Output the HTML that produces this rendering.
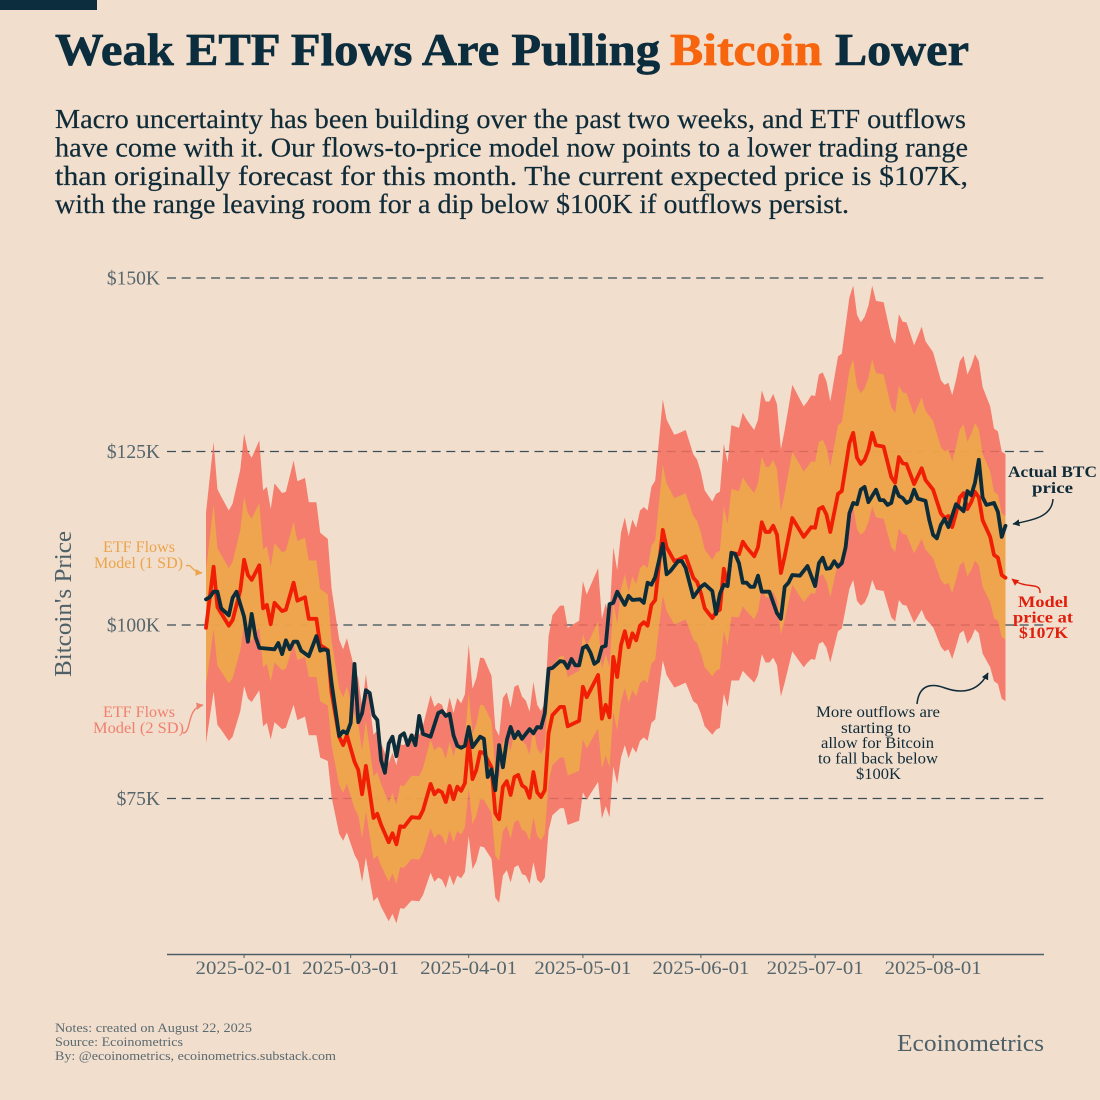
<!DOCTYPE html>
<html lang="en">
<head>
<meta charset="utf-8">
<title>Weak ETF Flows Are Pulling Bitcoin Lower</title>
<style>
  html, body { margin: 0; padding: 0; background: #F2DECD; }
  svg { display: block; font-family: "Liberation Serif", serif; }
</style>
</head>
<body>
<svg id="chart" width="1100" height="1100" viewBox="0 0 1100 1100" xmlns="http://www.w3.org/2000/svg">
  <rect x="0" y="0" width="1100" height="1100" fill="#F2DECD"/>
  <rect x="0" y="0" width="97" height="10" fill="#0B2D3D"/>

  <g font-weight="bold" font-size="45" fill="#0B2D3D" stroke="#0B2D3D" stroke-width="0.7">
    <text x="55" y="65" textLength="605" lengthAdjust="spacingAndGlyphs">Weak ETF Flows Are Pulling</text>
    <text x="670" y="65" textLength="152" lengthAdjust="spacingAndGlyphs" fill="#F7650F" stroke="#F7650F">Bitcoin</text>
    <text x="835" y="65" textLength="134" lengthAdjust="spacingAndGlyphs">Lower</text>
  </g>

  <g font-size="27" fill="#0F2B38" stroke="#0F2B38" stroke-width="0.2">
    <text x="55" y="128" textLength="911" lengthAdjust="spacingAndGlyphs">Macro uncertainty has been building over the past two weeks, and ETF outflows</text>
    <text x="55" y="156.5" textLength="913" lengthAdjust="spacingAndGlyphs">have come with it. Our flows-to-price model now points to a lower trading range</text>
    <text x="55" y="185" textLength="913" lengthAdjust="spacingAndGlyphs">than originally forecast for this month. The current expected price is $107K,</text>
    <text x="55" y="213" textLength="794" lengthAdjust="spacingAndGlyphs">with the range leaving room for a dip below $100K if outflows persist.</text>
  </g>

  <g id="grid-layer"></g>
  <g id="band-layer"></g>
  <g id="line-layer"></g>
  <g id="y-tick-layer"></g>

  <text transform="translate(71,604) rotate(-90)" text-anchor="middle" font-size="24" fill="#4D6068" textLength="146" lengthAdjust="spacingAndGlyphs">Bitcoin's Price</text>

  <line x1="167" y1="954.5" x2="1044" y2="954.5" stroke="#4D5F66" stroke-width="1.5"/>
  <g id="x-tick-layer"></g>

  <defs>
    <marker id="head-dark" markerWidth="8" markerHeight="8" refX="6.5" refY="3.5" orient="auto" markerUnits="userSpaceOnUse"><path d="M0,0 L7,3.5 L0,7 Z" fill="#0F2B38"/></marker>
    <marker id="head-red" markerWidth="8" markerHeight="8" refX="6.5" refY="3.5" orient="auto" markerUnits="userSpaceOnUse"><path d="M0,0 L7,3.5 L0,7 Z" fill="#E0200C"/></marker>
    <marker id="head-orange" markerWidth="8" markerHeight="8" refX="6.5" refY="3.5" orient="auto" markerUnits="userSpaceOnUse"><path d="M0,0 L7,3.5 L0,7 Z" fill="#EBA44B"/></marker>
    <marker id="head-salmon" markerWidth="8" markerHeight="8" refX="6.5" refY="3.5" orient="auto" markerUnits="userSpaceOnUse"><path d="M0,0 L7,3.5 L0,7 Z" fill="#F0806F"/></marker>
  </defs>

  <g font-size="15.5" fill="#EBA44B">
    <text x="103" y="552" textLength="72" lengthAdjust="spacingAndGlyphs">ETF Flows</text>
    <text x="94" y="568" textLength="89" lengthAdjust="spacingAndGlyphs">Model (1 SD)</text>
    <path d="M186,566 C192,563 191,572 202,573" fill="none" stroke="#EBA44B" stroke-width="1.4" marker-end="url(#head-orange)"/>
  </g>
  <g font-size="15.5" fill="#F0806F">
    <text x="103" y="717" textLength="72" lengthAdjust="spacingAndGlyphs">ETF Flows</text>
    <text x="93" y="733" textLength="91" lengthAdjust="spacingAndGlyphs">Model (2 SD)</text>
    <path d="M183,733 C192,733 186,708 203,705" fill="none" stroke="#F0806F" stroke-width="1.4" marker-end="url(#head-salmon)"/>
  </g>

  <g font-size="16" font-weight="bold" fill="#0F2B38" text-anchor="start">
    <text x="1008" y="477" textLength="89" lengthAdjust="spacingAndGlyphs">Actual BTC</text>
    <text x="1032" y="493" textLength="41" lengthAdjust="spacingAndGlyphs">price</text>
    <path d="M1053,499 C1052,516 1035,520 1013,524" fill="none" stroke="#0F2B38" stroke-width="1.5" marker-end="url(#head-dark)"/>
  </g>
  <g font-size="16" font-weight="bold" fill="#E0200C">
    <text x="1018" y="607" textLength="50" lengthAdjust="spacingAndGlyphs">Model</text>
    <text x="1013" y="622.5" textLength="60" lengthAdjust="spacingAndGlyphs">price at</text>
    <text x="1019" y="638" textLength="49" lengthAdjust="spacingAndGlyphs">$107K</text>
    <path d="M1040,593 C1041,581 1026,590 1012,579" fill="none" stroke="#E0200C" stroke-width="1.4" marker-end="url(#head-red)"/>
  </g>
  <g font-size="16" fill="#0F2B38">
    <text x="816" y="717" textLength="124" lengthAdjust="spacingAndGlyphs">More outflows are</text>
    <text x="841" y="733" textLength="70" lengthAdjust="spacingAndGlyphs">starting to</text>
    <text x="821" y="748" textLength="113" lengthAdjust="spacingAndGlyphs">allow for Bitcoin</text>
    <text x="818" y="763.5" textLength="120" lengthAdjust="spacingAndGlyphs">to fall back below</text>
    <text x="856" y="779" textLength="45" lengthAdjust="spacingAndGlyphs">$100K</text>
    <path d="M917,704 C919,684 932,683 945,688 C962,694 978,692 988,673" fill="none" stroke="#0F2B38" stroke-width="1.5" marker-end="url(#head-dark)"/>
  </g>

  <g font-size="13" fill="#5A6A70">
    <text x="55" y="1032" textLength="197" lengthAdjust="spacingAndGlyphs">Notes: created on August 22, 2025</text>
    <text x="55" y="1046" textLength="128" lengthAdjust="spacingAndGlyphs">Source: Ecoinometrics</text>
    <text x="55" y="1060" textLength="281" lengthAdjust="spacingAndGlyphs">By: @ecoinometrics, ecoinometrics.substack.com</text>
  </g>
  <text x="897" y="1051" font-size="24" fill="#4D6068" textLength="147" lengthAdjust="spacingAndGlyphs">Ecoinometrics</text>
</svg>

<script>
// Days are counted from 2025-01-22. Prices are in $K.
const startDate = '2025-01-22';

const yTickValues = [75, 100, 125, 150];
const xTickDates = ['2025-02-01', '2025-03-01', '2025-04-01', '2025-05-01', '2025-06-01', '2025-07-01', '2025-08-01'];

const modelDays = [
  0,2,3,4,6,7,9,10,11,12,
  14,15,16,17,18,20,21,23,24,26,
  27,29,30,32,33,35,36,37,39,40,
  41,42,44,45,46,48,49,50,51,52,
  54,56,57,59,60,61,62,63,64,65,
  66,67,68,69,70,71,72,73,75,76,
  77,78,79,80,81,82,83,84,85,86,
  87,88,89,90,91,93,94,95,98,99,
  100,103,104,105,106,107,108,109,110,111,
  112,113,114,115,116,117,118,120,121,123,
  124,126,128,129,130,131,133,134,135,136,
  137,138,140,141,142,144,145,146,147,148,
  149,150,151,152,154,157,158,159,160,161,
  162,163,164,166,167,169,170,171,172,173,
  174,175,176,178,180,181,182,183,184,186,
  188,189,191,193,194,195,196,197,198,199,
  200,201,202,203,204,206,207,208,209,210
];

const modelPrices = [
  99.6,108.4,102.6,101.7,99.9,100.7,105.0,109.4,107.2,106.5,
  108.6,102.4,102.9,100.1,103.2,102.0,102.2,106.1,103.5,104.0,
  100.9,100.9,97.1,96.4,90.2,83.9,82.7,84.1,80.3,79.1,
  75.6,79.7,72.2,72.8,71.2,68.7,70.0,68.4,71.0,70.9,
  72.3,72.2,73.3,77.1,75.6,76.2,75.9,74.5,76.8,74.9,
  76.7,76.1,77.2,83.4,77.8,79.1,81.7,81.6,79.5,72.9,
  72.0,76.7,77.5,75.5,78.1,78.4,76.9,76.5,75.1,78.8,
  75.9,75.2,76.2,84.4,87.0,88.2,88.2,85.4,86.2,91.1,
  89.6,92.8,86.5,88.5,86.7,95.4,92.5,97.1,99.1,96.8,
  98.8,97.8,99.9,100.4,99.9,102.9,103.6,113.7,111.2,109.2,
  109.4,109.9,106.8,106.2,104.6,102.4,101.0,101.9,102.2,108.1,
  105.8,110.4,110.2,112.0,111.2,109.9,111.2,114.8,113.4,113.4,
  114.3,113.0,107.5,109.9,115.4,112.7,113.4,114.1,114.0,116.7,
  117.0,115.9,113.4,118.9,119.3,126.2,127.7,124.1,123.2,123.8,
  125.2,127.7,125.9,125.7,121.3,120.5,124.2,123.3,123.2,120.3,
  122.6,120.9,119.5,116.1,115.4,115.7,114.1,116.1,118.4,119.0,
  116.7,117.7,119.2,118.4,115.1,112.7,110.1,109.7,107.2,106.8
];

const modelStdDev = [
  8.3,9.0,8.5,8.4,8.3,8.4,8.7,9.1,8.9,8.8,
  9.0,8.5,8.5,8.3,8.6,8.5,8.5,8.8,8.6,8.6,
  8.4,8.4,8.1,8.0,7.5,7.0,6.9,7.0,6.7,6.6,
  6.3,6.6,6.0,6.0,5.9,5.7,5.8,5.7,5.9,5.9,
  6.0,6.0,6.1,6.4,6.3,6.3,6.3,6.2,6.4,6.2,
  6.4,6.3,6.4,6.9,6.5,6.6,6.8,6.8,6.6,6.1,
  6.0,6.4,6.4,6.3,6.5,6.5,6.4,6.3,6.2,6.5,
  6.3,6.2,6.3,7.0,7.2,7.3,7.3,7.1,7.2,7.6,
  7.4,7.7,7.2,7.3,7.2,7.9,7.7,8.1,8.2,8.0,
  8.2,8.1,8.3,8.3,8.3,8.5,8.6,9.4,9.2,9.1,
  9.1,9.1,8.9,8.8,8.7,8.5,8.4,8.5,8.5,9.0,
  8.8,9.2,9.1,9.3,9.2,9.1,9.2,9.5,9.4,9.4,
  9.5,9.4,8.9,9.1,9.6,9.4,9.4,9.5,9.5,9.7,
  9.7,9.6,9.4,9.9,9.9,10.5,10.6,10.3,10.2,10.3,
  10.4,10.6,10.4,10.4,10.1,10.0,10.3,10.2,10.2,10.0,
  10.2,10.0,9.9,9.6,9.6,9.6,9.5,9.6,9.8,9.9,
  9.7,9.8,9.9,9.8,9.6,9.4,9.1,9.1,8.9,8.9
];

const actualDays = [
  0,1,2,3,4,6,7,8,10,11,
  12,13,14,18,19,20,21,22,23,24,
  25,27,29,30,31,32,33,35,36,37,
  38,39,40,41,42,43,44,45,46,47,
  48,49,50,51,52,53,54,55,56,57,
  59,61,62,63,64,65,66,67,68,69,
  70,72,73,74,75,76,77,78,79,80,
  81,82,83,85,86,87,88,89,90,91,
  93,94,95,96,97,98,99,100,101,102,
  103,104,105,106,107,108,110,111,112,114,
  115,116,117,118,120,121,122,124,125,126,
  128,130,131,133,134,135,136,137,138,139,
  140,141,142,143,144,145,146,148,150,151,
  152,153,154,156,158,160,161,162,163,164,
  165,166,167,168,169,170,171,172,173,174,
  176,177,178,179,180,181,182,183,184,185,
  186,187,189,190,191,192,193,194,195,197,
  198,199,200,201,202,203,204,205,207,208,
  209,210
];

const actualPrices = [
  103.7,104.0,104.8,104.8,102.4,101.4,103.9,104.8,101.2,97.6,
  101.6,98.3,96.7,96.5,97.4,95.8,97.8,96.5,97.6,97.6,
  96.3,95.5,98.4,96.3,96.5,96.3,91.6,84.0,84.7,84.4,
  85.9,94.4,86.0,87.3,90.6,90.2,87.0,86.3,80.5,78.7,
  82.9,83.9,81.1,84.0,84.4,82.7,84.1,82.7,86.9,84.3,
  83.9,87.3,87.6,86.9,87.2,84.1,82.6,82.3,82.6,85.3,
  82.4,83.9,83.6,78.1,79.2,76.2,82.7,79.5,83.4,85.3,
  83.7,84.6,83.6,85.0,84.4,85.3,85.2,87.3,93.7,93.8,
  94.8,94.7,93.8,95.1,94.2,94.2,96.7,97.0,96.0,94.4,
  94.8,96.8,97.0,103.0,103.2,104.8,102.9,104.2,103.6,103.7,
  103.2,106.1,105.8,106.9,111.7,107.3,107.8,109.2,109.2,108.2,
  104.0,105.5,105.9,104.9,101.6,104.5,105.8,105.6,110.4,110.2,
  108.9,106.1,106.1,105.5,105.5,107.1,104.8,104.8,101.7,100.9,
  105.5,106.1,107.2,107.1,108.5,105.6,108.9,109.7,108.1,108.2,
  109.2,108.4,108.9,111.2,116.1,117.6,117.4,119.5,119.9,117.7,
  119.5,118.0,118.0,117.3,117.6,119.9,118.6,118.3,117.6,117.9,
  119.5,118.2,117.9,115.1,113.0,112.5,114.4,115.3,114.1,117.4,
  116.9,116.4,119.3,118.7,120.5,123.8,118.4,117.3,117.6,116.3,
  112.7,114.3
];

const SVG_NS = 'http://www.w3.org/2000/svg';

function xScale(day) { return 206 + 3.807 * day; }
function yScale(price) { return 625 - (price - 100) * 6.94; }
function daysFromStart(dateText) { return (Date.parse(dateText) - Date.parse(startDate)) / 86400000; }
function coords(days, values) {
  return days.map(function (d, i) { return xScale(d).toFixed(1) + ',' + yScale(values[i]).toFixed(1); });
}
function bandPath(sdCount) {
  const upper = modelPrices.map(function (p, i) { return p + sdCount * modelStdDev[i]; });
  const lower = modelPrices.map(function (p, i) { return p - sdCount * modelStdDev[i]; });
  const top = coords(modelDays, upper);
  const bottom = coords(modelDays, lower).reverse();
  return 'M' + top.concat(bottom).join(' L') + ' Z';
}

const gridLayer = document.getElementById('grid-layer');
const yTickLayer = document.getElementById('y-tick-layer');
yTickValues.forEach(function (v) {
  const line = document.createElementNS(SVG_NS, 'line');
  
  
  line.setAttribute('x1', 167);
  line.setAttribute('x2', 1044);
  line.setAttribute('y1', yScale(v));
  line.setAttribute('y2', yScale(v));
  line.setAttribute('stroke', '#3A4E57');
  line.setAttribute('stroke-width', '1.3');
  line.setAttribute('stroke-dasharray', '9 5.7');
  gridLayer.appendChild(line);

  const label = document.createElementNS(SVG_NS, 'text');
  
  
  label.setAttribute('x', 160);
  label.setAttribute('y', yScale(v) + 6.5);
  label.setAttribute('text-anchor', 'end');
  label.setAttribute('font-size', '19.5');
  label.setAttribute('fill', '#55666C');
  label.textContent = '$' + v + 'K';
  yTickLayer.appendChild(label);
});

const bandLayer = document.getElementById('band-layer');
const band2 = document.createElementNS(SVG_NS, 'path');


band2.setAttribute('d', bandPath(2));
band2.setAttribute('fill', '#F46C5D');
band2.setAttribute('fill-opacity', '0.85');
bandLayer.appendChild(band2);

const band1 = document.createElementNS(SVG_NS, 'path');


band1.setAttribute('d', bandPath(1));
band1.setAttribute('fill', '#ECAC48');
band1.setAttribute('fill-opacity', '0.85');
bandLayer.appendChild(band1);

const lineLayer = document.getElementById('line-layer');
const modelLine = document.createElementNS(SVG_NS, 'polyline');


modelLine.setAttribute('points', coords(modelDays, modelPrices).join(' '));
modelLine.setAttribute('fill', 'none');
modelLine.setAttribute('stroke', '#F01E05');
modelLine.setAttribute('stroke-width', '3.8');
modelLine.setAttribute('stroke-linejoin', 'round');
modelLine.setAttribute('stroke-linecap', 'round');
lineLayer.appendChild(modelLine);

const actualLine = document.createElementNS(SVG_NS, 'polyline');


actualLine.setAttribute('points', coords(actualDays, actualPrices).join(' '));
actualLine.setAttribute('fill', 'none');
actualLine.setAttribute('stroke', '#0C2C3A');
actualLine.setAttribute('stroke-width', '3.8');
actualLine.setAttribute('stroke-linejoin', 'round');
actualLine.setAttribute('stroke-linecap', 'round');
lineLayer.appendChild(actualLine);

const xTickLayer = document.getElementById('x-tick-layer');
xTickDates.forEach(function (dateText) {
  const x = xScale(daysFromStart(dateText));
  const tick = document.createElementNS(SVG_NS, 'line');
  
  
  tick.setAttribute('x1', x);
  tick.setAttribute('x2', x);
  tick.setAttribute('y1', 954.5);
  tick.setAttribute('y2', 958);
  tick.setAttribute('stroke', '#4D5F66');
  tick.setAttribute('stroke-width', '1');
  xTickLayer.appendChild(tick);

  const label = document.createElementNS(SVG_NS, 'text');
  
  
  label.setAttribute('x', x - 48.5);
  label.setAttribute('y', 974);
  label.setAttribute('font-size', '18.5');
  label.setAttribute('fill', '#55666C');
  label.setAttribute('textLength', '97');
  label.setAttribute('lengthAdjust', 'spacingAndGlyphs');
  label.textContent = dateText;
  xTickLayer.appendChild(label);
});
</script>
</body>
</html>
